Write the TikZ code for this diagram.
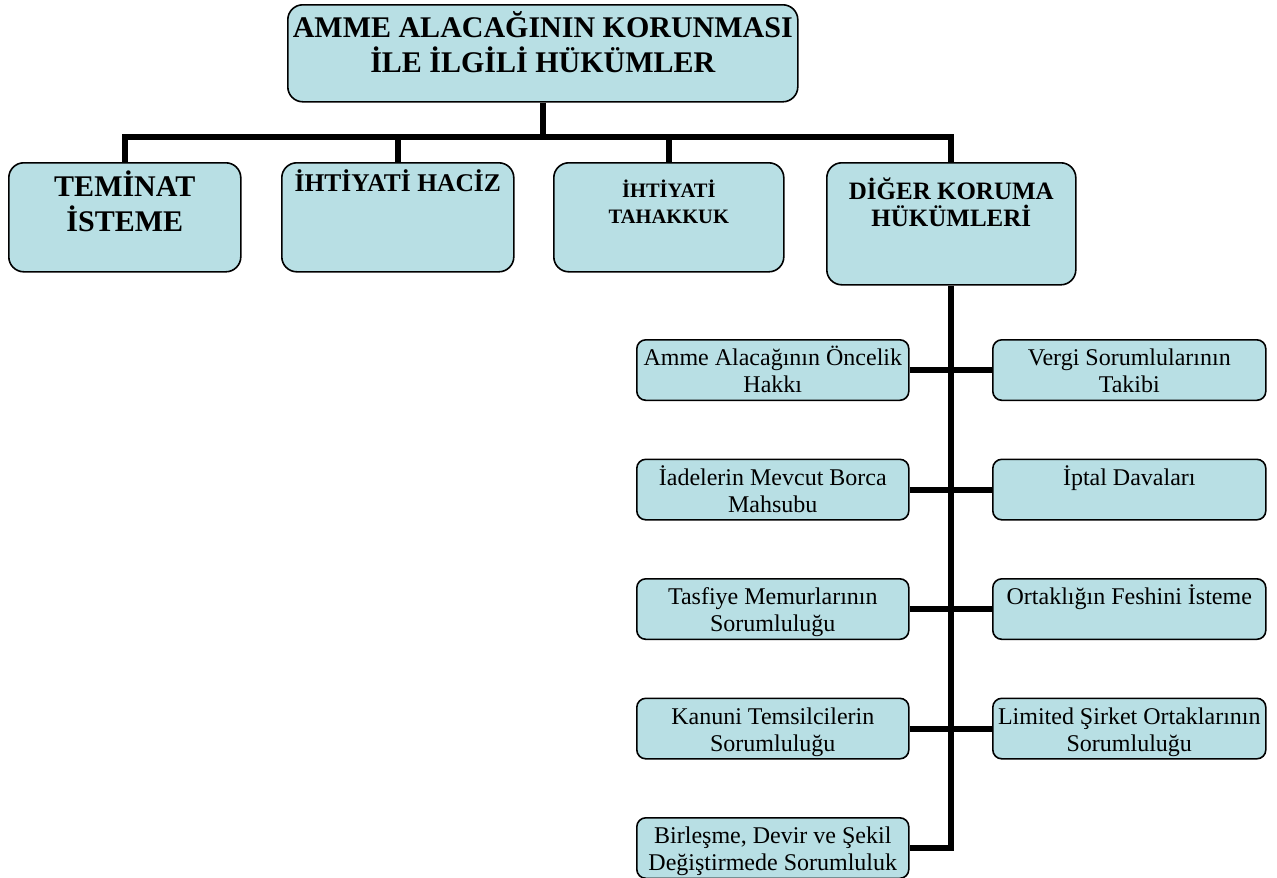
\documentclass[tikz,border=0pt]{standalone}
\usepackage{fontspec}
\setmainfont{Liberation Serif}
\definecolor{boxfill}{RGB}{184,223,228}
% box text: height, width, font, offset of first baseline, lines
\newcommand\boxlines[5]{\parbox[c][#1][t]{#2}{#3\centering\rule{0pt}{#4}#5}}
\newcommand\ftop{\fontsize{30}{34.5}\selectfont\bfseries}
\newcommand\fhac{\fontsize{25.5}{28}\selectfont\bfseries}
\newcommand\ftah{\fontsize{20.5}{26}\selectfont\bfseries}
\newcommand\fdig{\fontsize{25}{27}\selectfont\bfseries}
\newcommand\fsub{\fontsize{24}{27}\selectfont}
\begin{document}
\begin{tikzpicture}[x=1pt,y=-1pt,
  box/.style={draw=black, line width=1.6pt, fill=boxfill, inner sep=0pt, anchor=north west},
  bigbox/.style={box, rounded corners=15pt},
  subbox/.style={box, rounded corners=9pt},
  link/.style={line width=6pt, line join=miter}]
  \fill[white] (0,0) rectangle (1277,878);
  \useasboundingbox (0,0) rectangle (1277,878);

  % root and first level
  \node[bigbox] (top) at (287,4) {\boxlines{97pt}{510pt}{\ftop}{33pt}{AMME ALACAĞININ KORUNMASI\\İLE İLGİLİ HÜKÜMLER}};
  \node[bigbox] (tem) at (8,162) {\boxlines{109pt}{232pt}{\ftop}{34pt}{TEMİNAT\\İSTEME}};
  \node[bigbox] (hac) at (281,162) {\boxlines{109pt}{232pt}{\fhac}{29pt}{İHTİYATİ HACİZ}};
  \node[bigbox] (tah) at (553,162) {\boxlines{109pt}{230pt}{\ftah}{35pt}{İHTİYATİ\\TAHAKKUK}};
  \node[bigbox] (dig) at (826,162) {\boxlines{122pt}{249pt}{\fdig}{37pt}{DİĞER KORUMA\\HÜKÜMLERİ}};

  % second level, left column
  \node[subbox] (a1) at (636,339)   {\boxlines{60.5pt}{272pt}{\fsub}{26pt}{Amme Alacağının Öncelik\\Hakkı}};
  \node[subbox] (a2) at (636,458.5) {\boxlines{60.5pt}{272pt}{\fsub}{26pt}{İadelerin Mevcut Borca\\Mahsubu}};
  \node[subbox] (a3) at (636,578)   {\boxlines{60.5pt}{272pt}{\fsub}{26pt}{Tasfiye Memurlarının\\Sorumluluğu}};
  \node[subbox] (a4) at (636,697.5) {\boxlines{60.5pt}{272pt}{\fsub}{26pt}{Kanuni Temsilcilerin\\Sorumluluğu}};
  \node[subbox] (a5) at (636,817)   {\boxlines{60.5pt}{272pt}{\fsub}{26pt}{Birleşme, Devir ve Şekil\\Değiştirmede Sorumluluk}};

  % second level, right column
  \node[subbox] (b1) at (992,339)   {\boxlines{60.5pt}{273pt}{\fsub}{26pt}{Vergi Sorumlularının\\Takibi}};
  \node[subbox] (b2) at (992,458.5) {\boxlines{60.5pt}{273pt}{\fsub}{26pt}{İptal Davaları}};
  \node[subbox] (b3) at (992,578)   {\boxlines{60.5pt}{273pt}{\fsub}{26pt}{Ortaklığın Feshini İsteme}};
  \node[subbox] (b4) at (992,697.5) {\boxlines{60.5pt}{273pt}{\fsub}{26pt}{Limited Şirket Ortaklarının\\Sorumluluğu}};

  % connectors
  \coordinate (bus) at (0,137);
  \draw[link] (tem.north) -- (tem.north |- bus) -- (dig.north |- bus) -- (dig.north);
  \draw[link] (top.south) -- (top.south |- bus);
  \draw[link] (hac.north) -- (hac.north |- bus);
  \draw[link] (tah.north) -- (tah.north |- bus);
  \draw[link] (dig.south) |- (a5.east);
  \draw[link] (a1.east) -- (b1.west);
  \draw[link] (a2.east) -- (b2.west);
  \draw[link] (a3.east) -- (b3.west);
  \draw[link] (a4.east) -- (b4.west);
\end{tikzpicture}
\end{document}
